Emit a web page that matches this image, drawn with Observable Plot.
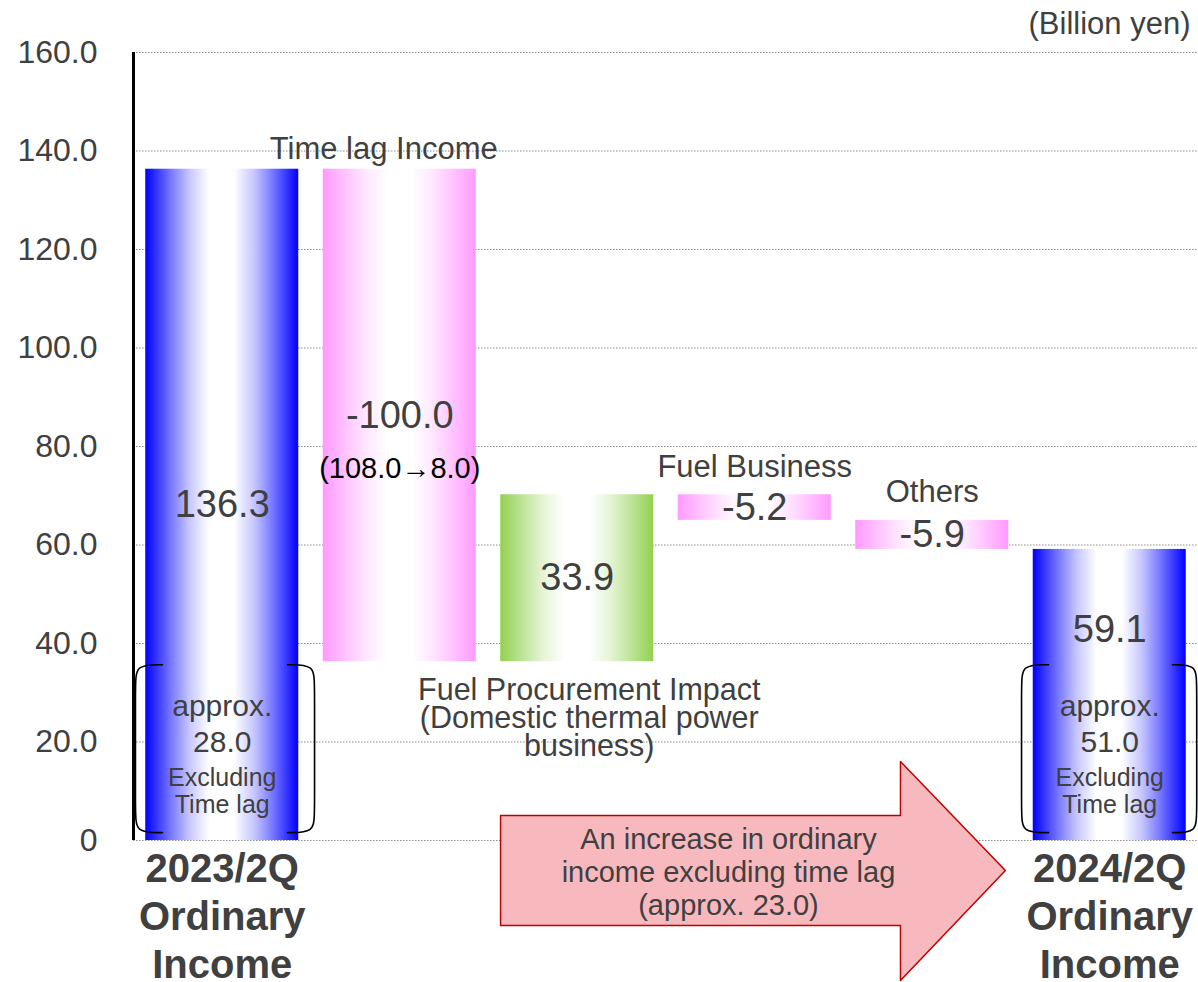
<!DOCTYPE html>
<html>
<head>
<meta charset="utf-8">
<script src="https://cdn.jsdelivr.net/npm/d3@7"></script>
<script src="https://cdn.jsdelivr.net/npm/@observablehq/plot@0.6"></script>
<style>
  html, body { margin: 0; padding: 0; background: #fff; }
  #chart { width: 1198px; height: 982px; }
</style>
</head>
<body>
<div id="chart"></div>
<script>
// ---- Data ----
const categories = [
  "2023/2Q\nOrdinary\nIncome",
  "Time lag Income",
  "Fuel Procurement Impact\n(Domestic thermal power\nbusiness)",
  "Fuel Business",
  "Others",
  "2024/2Q\nOrdinary\nIncome"
];
const values = [136.3, -100.0, 33.9, -5.2, -5.9, 59.1];
const kinds = ["total", "decrease", "increase", "decrease", "decrease", "total"];
const valueLabels = ["136.3", "-100.0", "33.9", "-5.2", "-5.9", "59.1"];
const yTicks = [0, 20, 40, 60, 80, 100, 120, 140, 160];
const unitLabel = "(Billion yen)";
const timeLagDetail = "(108.0→8.0)";
const excludingLagIndex = [0, 5];
const excludingLagValues = [28.0, 51.0];
const excludingLagNote = "Excluding\nTime lag";
const arrowText = "An increase in ordinary\nincome excluding time lag\n(approx. 23.0)";

const kindColors = { total: "#0000ff", decrease: "#ff99ff", increase: "#92d050" };

// ---- Waterfall geometry from values ----
let run = 0;
const bars = categories.map((name, i) => {
  const kind = kinds[i];
  const y1 = kind === "total" ? 0 : run;
  const y2 = kind === "total" ? values[i] : run + values[i];
  run = y2;
  return { i, name, kind, label: valueLabels[i], y1, y2,
           lo: Math.min(y1, y2), hi: Math.max(y1, y2), mid: (y1 + y2) / 2 };
});

// ---- Annotation shapes (in data space) ----
const bracketPts = [];
function bracket(id, xEnd, xOut, yTop, yBot) {
  [[xEnd, yTop], [xOut, yTop], [xOut, yTop - 4], [xOut, yBot + 4], [xOut, yBot], [xEnd, yBot]]
    .forEach(([x, y]) => bracketPts.push({ id, x, y }));
}
bracket("a1", -0.337, -0.489, 35.7, 1.6);
bracket("a2", 0.368, 0.52, 35.7, 1.6);
bracket("b1", 4.655, 4.503, 35.7, 1.6);
bracket("b2", 5.354, 5.49, 35.7, 1.6);

const arrowPts = [
  { x: 1.568, y: 5.08 }, { x: 3.821, y: 5.08 }, { x: 3.821, y: 16.04 },
  { x: 4.412, y: -6.09 }, { x: 3.821, y: -28.43 }, { x: 3.821, y: -17.26 },
  { x: 1.568, y: -17.26 }, { x: 1.568, y: 5.08 }
];

const excl = excludingLagIndex.map((i, k) => ({ i, v: excludingLagValues[k] }));
const HW = 0.431;

const svg = Plot.plot({
  width: 1198,
  height: 982,
  marginTop: 52,
  marginBottom: 142,
  marginLeft: 133,
  marginRight: 0,
  style: { fontFamily: "'Liberation Sans', Arial, sans-serif", color: "#404040", background: "#fff", overflow: "visible" },
  x: { domain: [-0.5, 5.5], axis: null },
  y: { domain: [0, 160], axis: null },
  marks: [
    Plot.ruleY(yTicks, { stroke: "#8c8c8c", strokeDasharray: "1.5,1.5", strokeWidth: 1.2 }),
    ...Object.keys(kindColors).map(k =>
      Plot.rectY(bars.filter(d => d.kind === k), {
        x1: d => d.i - HW, x2: d => d.i + HW, y1: "y1", y2: "y2", fill: `url(#grad-${k})`
      })
    ),
    Plot.ruleX([-0.5], { stroke: "#000", strokeWidth: 3 }),
    Plot.axisY(yTicks, {
      tickSize: 0, tickPadding: 36, fontSize: 32, label: null,
      tickFormat: d => d === 0 ? "0" : d.toFixed(1)
    }),
    Plot.line(bracketPts, { x: "x", y: "y", z: "id", curve: "basis", stroke: "#000", strokeWidth: 1.6 }),
    // value labels
    Plot.text(bars.filter(d => d.i < 5), { x: "i", y: "mid", text: "label", fontSize: 38 }),
    Plot.text([bars[5]], { x: "i", y: "y2", dy: 80, text: "label", fontSize: 38 }),
    Plot.text([bars[1]], { x: "i", y: "mid", dy: 53, text: () => timeLagDetail, fontSize: 29, fill: "#000" }),
    // category labels
    Plot.text([bars[1]], { x: "i", y: "hi", dy: -20, dx: -16, text: "name", fontSize: 31 }),
    Plot.text([bars[3], bars[4]], { x: "i", y: "hi", dy: -28, text: "name", fontSize: 31 }),
    Plot.text([bars[2]], { x: "i", y: "lo", dy: 57, dx: 12, text: "name", fontSize: 30.5, lineHeight: 0.92 }),
    Plot.text(bars.filter(d => d.kind === "total"), {
      x: "i", frameAnchor: "bottom", lineAnchor: "middle", dy: 74, text: "name",
      fontSize: 40, fontWeight: "bold", lineHeight: 1.2
    }),
    // excluding time lag notes
    Plot.text(excl, { x: "i", frameAnchor: "bottom", lineAnchor: "middle", dy: -118,
      text: d => `approx.\n${d.v.toFixed(1)}`, fontSize: 30, lineHeight: 1.2 }),
    Plot.text(excl, { x: "i", frameAnchor: "bottom", lineAnchor: "middle", dy: -50,
      text: () => excludingLagNote, fontSize: 25, lineHeight: 1.1 }),
    // arrow
    Plot.line(arrowPts, { x: "x", y: "y", fill: "#f7b9bd", stroke: "#c00000", strokeWidth: 1.5 }),
    Plot.text([arrowText], { x: 2.852, y: -6.3, text: d => d, fontSize: 29, lineHeight: 1.14 }),
    // unit
    Plot.text([unitLabel], { frameAnchor: "top-right", lineAnchor: "middle", dy: -28, dx: -8,
      textAnchor: "end", text: d => d, fontSize: 31 })
  ]
});

// horizontal colour → white → colour gradients (offset, share of colour)
const gradStops = [[0, 1], [0.09, 0.75], [0.18, 0.5], [0.29, 0.22], [0.42, 0], [0.58, 0],
                   [0.71, 0.22], [0.82, 0.5], [0.91, 0.75], [1, 1]];
const defs = d3.select(svg).insert("defs", ":first-child");
for (const [k, c] of Object.entries(kindColors)) {
  const g = defs.append("linearGradient").attr("id", `grad-${k}`)
    .attr("x1", "0").attr("x2", "1").attr("y1", "0").attr("y2", "0");
  const mix = d3.interpolateRgb("#ffffff", c);
  gradStops.forEach(([o, t]) => g.append("stop").attr("offset", o).attr("stop-color", mix(t)));
}

document.getElementById("chart").appendChild(svg);
</script>
</body>
</html>
